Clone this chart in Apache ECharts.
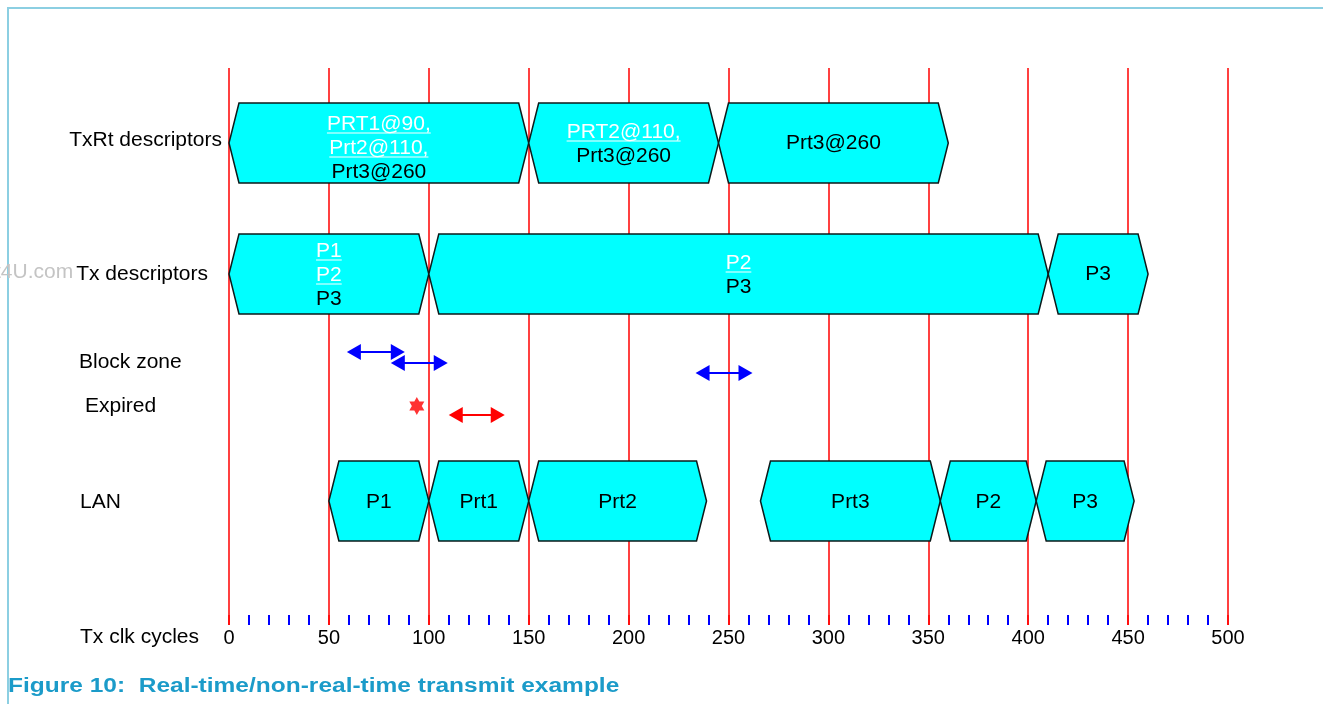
<!DOCTYPE html>
<html>
<head>
<meta charset="utf-8">
<title>Real-time/non-real-time transmit example</title>
<script src="https://cdn.jsdelivr.net/npm/echarts@6/dist/echarts.min.js"></script>
<style>
  html, body { margin: 0; padding: 0; background: #fff; }
  #chart { width: 1323px; height: 704px; }
</style>
</head>
<body>
<div id="chart"></div>
<script>
// ---- values (x = Tx clk cycles) ----
const clkMax = 500;
const clkStep = 50;

// TxRt descriptors row
const txRtStart = [0, 150, 245];
const txRtEnd = [150, 245, 360];
const txRtText = [['PRT1@90,', 'Prt2@110,', 'Prt3@260'], ['PRT2@110,', 'Prt3@260'], ['Prt3@260']];
const txRtDone = [2, 1, 0]; // leading lines drawn white + underlined

// Tx descriptors row
const txStart = [0, 100, 410];
const txEnd = [100, 410, 460];
const txText = [['P1', 'P2', 'P3'], ['P2', 'P3'], ['P3']];
const txDone = [2, 1, 0];

// LAN row
const lanStart = [50, 100, 150, 266, 356, 404];
const lanEnd = [100, 150, 239, 356, 404, 453];
const lanText = [['P1'], ['Prt1'], ['Prt2'], ['Prt3'], ['P2'], ['P3']];
const lanDone = [0, 0, 0, 0, 0, 0];

// block zone (blue) / expired (red) intervals
const blockStart = [59, 81, 233.5];
const blockEnd = [88, 109.5, 262];
const expiredStart = [110];
const expiredEnd = [138];
const expiredMark = [94];

const rowNames = ['TxRt descriptors', 'Tx descriptors', 'Block zone', 'Expired', 'LAN', 'Tx clk cycles'];

// ---- layout (y axis is a plain 0..557 level scale, bottom = clk axis) ----
const layout = {
  txRt: 482, tx: 351, lan: 124,
  block: [273, 262, 252],
  expired: 210, mark: 219,
  rowLevel: [485, 351, 263, 219, 123, -12],
  rowX: [222, 208, 79, 85, 80, 80],
  rowAlign: ['right', 'right', 'left', 'left', 'left', 'left'],
  txRtShift: [5, 1, 0],
  txShift: [1, 1, 0],
  lanShift: [1, 1, 1, 1, 1, 1],
  boxHalf: 40, taper: 5, lineH: 24
};

const FONT = '"Liberation Sans", Arial, sans-serif';
const BOX_FONT = '21px ' + FONT;
const measure = document.createElement('canvas').getContext('2d');
measure.font = BOX_FONT;

const chart = echarts.init(document.getElementById('chart'));

// 六边形框 + 文本
function boxSeries(starts, ends, texts, done, level, shift) {
  return {
    type: 'custom',
    silent: true,
    data: starts.map((s, i) => [s, ends[i], level]),
    renderItem: (params, api) => {
      const i = params.dataIndex;
      const l = api.coord([api.value(0), api.value(2)]);
      const r = api.coord([api.value(1), api.value(2)]);
      const h = api.size([0, layout.boxHalf])[1];
      const t = api.size([layout.taper, 0])[0];
      const cy = l[1];
      const cx = (l[0] + r[0]) / 2;
      const children = [{
        type: 'polygon',
        shape: { points: [[l[0], cy], [l[0] + t, cy - h], [r[0] - t, cy - h], [r[0], cy], [r[0] - t, cy + h], [l[0] + t, cy + h]] },
        style: { fill: '#00ffff', stroke: '#0d1a1a', lineWidth: 1.5 }
      }];
      const lines = texts[i];
      lines.forEach((txt, k) => {
        const y = cy + shift[i] + (k - (lines.length - 1) / 2) * layout.lineH;
        const white = k < done[i];
        children.push({
          type: 'text',
          style: { text: txt, x: cx, y: y, fill: white ? '#ffffff' : '#000000', font: BOX_FONT, align: 'center', verticalAlign: 'middle' }
        });
        if (white) {
          const w = measure.measureText(txt).width;
          children.push({
            type: 'line',
            shape: { x1: cx - w / 2, y1: y + 9, x2: cx + w / 2, y2: y + 9 },
            style: { stroke: '#ffffff', lineWidth: 1 }
          });
        }
      });
      return { type: 'group', children };
    }
  };
}

// 双向箭头
function arrowSeries(starts, ends, levels, color) {
  return {
    type: 'custom',
    silent: true,
    data: starts.map((s, i) => [s, ends[i], levels[i]]),
    renderItem: (params, api) => {
      const a = api.coord([api.value(0), api.value(2)]);
      const b = api.coord([api.value(1), api.value(2)]);
      const y = a[1], hl = 14, hh = 8;
      return {
        type: 'group',
        children: [
          { type: 'line', shape: { x1: a[0] + hl - 2, y1: y, x2: b[0] - hl + 2, y2: y }, style: { stroke: color, lineWidth: 2 } },
          { type: 'polygon', shape: { points: [[a[0], y], [a[0] + hl, y - hh], [a[0] + hl, y + hh]] }, style: { fill: color } },
          { type: 'polygon', shape: { points: [[b[0], y], [b[0] - hl, y - hh], [b[0] - hl, y + hh]] }, style: { fill: color } }
        ]
      };
    }
  };
}

const option = {
  animation: false,
  backgroundColor: '#ffffff',
  grid: { left: 229, right: 95, top: 68, bottom: 79 },
  xAxis: {
    type: 'value',
    min: 0,
    max: clkMax,
    interval: clkStep,
    axisLine: { show: false },
    axisTick: { show: true, inside: true, length: 10, lineStyle: { color: '#ff0000', width: 1.5 } },
    minorTick: { show: true, splitNumber: 5, length: 10, lineStyle: { color: '#0000ff', width: 2 } },
    splitLine: { show: true, lineStyle: { color: '#ff0000', width: 1.5 } },
    axisLabel: { show: true, margin: 3, fontSize: 20, fontFamily: FONT, color: '#000', showMinLabel: true, showMaxLabel: true }
  },
  yAxis: {
    type: 'value',
    min: 0,
    max: 557,
    show: false,
    splitLine: { show: false }
  },
  graphic: [
    { type: 'polyline', silent: true, shape: { points: [[8, 704], [8, 8], [1323, 8]] }, style: { stroke: '#8ccfe2', lineWidth: 2, fill: null } },
    { type: 'text', silent: true, x: -5, y: 272, style: { text: 't4U.com', font: '21px ' + FONT, fill: '#c4c4c4', verticalAlign: 'middle' } },
    { type: 'text', silent: true, x: 8, y: 686, scaleX: 1.225, style: { text: 'Figure 10:  Real-time/non-real-time transmit example', x: 0, y: 0, font: 'bold 20px ' + FONT, fill: '#1b9bc9', verticalAlign: 'middle' } }
  ],
  series: [
    boxSeries(txRtStart, txRtEnd, txRtText, txRtDone, layout.txRt, layout.txRtShift),
    boxSeries(txStart, txEnd, txText, txDone, layout.tx, layout.txShift),
    boxSeries(lanStart, lanEnd, lanText, lanDone, layout.lan, layout.lanShift),
    arrowSeries(blockStart, blockEnd, layout.block, '#0000ff'),
    arrowSeries(expiredStart, expiredEnd, [layout.expired], '#ff0000'),
    {
      type: 'scatter',
      silent: true,
      data: expiredMark.map(x => [x, layout.mark]),
      symbol: 'path://M0,-10 L8.66,5 L-8.66,5 Z M0,10 L-8.66,-5 L8.66,-5 Z',
      symbolSize: [15, 18],
      itemStyle: { color: '#ff0000' }
    },
    {
      // 行标题
      type: 'custom',
      silent: true,
      data: rowNames.map((n, i) => [0, layout.rowLevel[i]]),
      renderItem: (params, api) => {
        const i = params.dataIndex;
        const y = api.coord([0, api.value(1)])[1];
        return {
          type: 'text',
          style: { text: rowNames[i], x: layout.rowX[i], y: y, font: '21px ' + FONT, fill: '#000', align: layout.rowAlign[i], verticalAlign: 'middle' }
        };
      }
    }
  ]
};

chart.setOption(option);
</script>
</body>
</html>
